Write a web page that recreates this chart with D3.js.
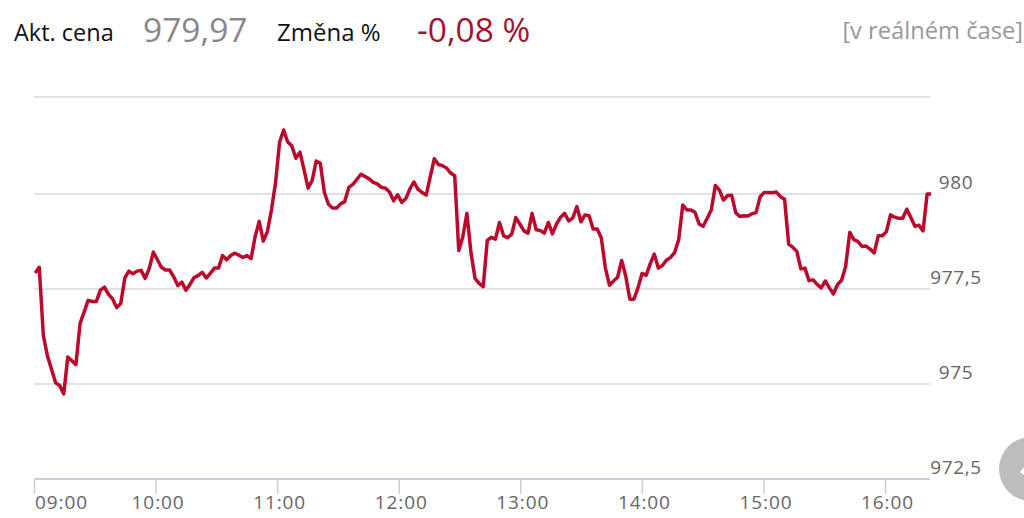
<!DOCTYPE html>
<html>
<head>
<meta charset="utf-8">
<script src="https://cdnjs.cloudflare.com/ajax/libs/d3/7.8.5/d3.min.js"></script>
<style>
  html, body { margin: 0; padding: 0; background: #fff; overflow: hidden; }
  text { font-family: "Open Sans", sans-serif; }
</style>
</head>
<body>
<script>
// ceny, jeden bod po 2 minutach
const prices = [
  977.92, 978.07, 976.27, 975.74, 975.39, 975.03, 974.96, 974.74, 975.71, 975.61,
  975.51, 976.59, 976.89, 977.20, 977.17, 977.17, 977.47, 977.55, 977.36, 977.24,
  977.01, 977.12, 977.79, 977.97, 977.90, 977.97, 977.99, 977.78, 978.04, 978.47,
  978.27, 978.07, 978.00, 978.00, 977.82, 977.59, 977.68, 977.47, 977.62, 977.80,
  977.85, 977.94, 977.79, 977.91, 978.05, 978.05, 978.38, 978.27, 978.38, 978.44,
  978.39, 978.33, 978.38, 978.30, 978.88, 979.28, 978.76, 979.01, 979.58, 980.28,
  981.34, 981.65, 981.34, 981.24, 980.92, 981.08, 980.63, 980.15, 980.35, 980.85,
  980.79, 980.04, 979.73, 979.63, 979.63, 979.74,
  979.80, 980.17, 980.25, 980.38, 980.51, 980.45, 980.39, 980.30, 980.26, 980.17,
  980.15, 980.05, 979.82, 979.98, 979.78, 979.88, 980.13, 980.31, 980.12, 980.04,
  979.97, 980.45, 980.91, 980.76, 980.73, 980.67, 980.54, 980.47, 978.51, 978.88,
  979.49, 978.45, 977.78, 977.65, 977.56, 978.78, 978.86, 978.81, 979.25, 978.90,
  978.85, 978.94, 979.38, 979.21, 979.03, 978.97, 979.49, 979.06, 979.04, 978.97,
  979.25, 978.95, 979.21, 979.39, 979.49, 979.29, 979.37, 979.67, 979.27, 979.45,
  979.43, 979.08, 979.08, 978.84, 978.05, 977.60, 977.71, 977.81, 978.25, 977.84,
  977.23, 977.23, 977.53, 977.91, 977.86, 978.16, 978.42, 978.05, 978.12, 978.26,
  978.33, 978.46, 978.80, 979.71,
  979.58, 979.58, 979.52, 979.21, 979.15, 979.36, 979.58, 980.22, 980.10, 979.84,
  979.96, 979.97, 979.51, 979.41, 979.43, 979.42, 979.48, 979.51, 979.93, 980.04,
  980.04, 980.03, 980.05, 979.93, 979.86, 978.68, 978.60, 978.49, 978.03, 978.05,
  977.72, 977.74, 977.62, 977.53, 977.71, 977.53, 977.37, 977.62, 977.73, 978.10,
  978.99, 978.80, 978.75, 978.62, 978.63, 978.55, 978.45, 978.90, 978.90, 979.01,
  979.45, 979.39, 979.36, 979.36, 979.60, 979.38, 979.15, 979.18, 979.03, 980.00,
  980.00
];
const hourTicks = [540, 600, 660, 720, 780, 840, 900, 960];
const hourLabels = ["09:00", "10:00", "11:00", "12:00", "13:00", "14:00", "15:00", "16:00"];
const priceTicks = [972.5, 975, 977.5, 980, 982.5];
const priceLabels = ["972,5", "975", "977,5", "980", ""];

const firstMinute = 540.6;
const stepMinutes = 2.01;

const svg = d3.select("body").append("svg").attr("width", 1024).attr("height", 518);

const x = d3.scaleLinear().domain([540, 960]).range([34, 885]);
const y = d3.scaleLinear().domain(priceTicks).range([479, 384, 289, 194, 97]);

// mrizka
svg.append("g").selectAll("line").data(priceTicks).enter().append("line")
  .attr("x1", 34)
  .attr("x2", 930)
  .attr("y1", d => y(d))
  .attr("y2", d => y(d))
  .attr("stroke", "#d3dae1")
  .attr("stroke-width", 1.6);

// popisky osy y
svg.append("g").selectAll("text").data(priceTicks).enter().append("text")
  .attr("x", 956)
  .attr("y", d => y(d) - 5)
  .attr("text-anchor", "middle")
  .attr("font-size", 19)
  .attr("letter-spacing", 0.6)
  .attr("fill", "#666")
  .text((d, i) => priceLabels[i]);

// osa x
const xAxis = d3.axisBottom(x)
  .tickValues(hourTicks)
  .tickFormat((d, i) => hourLabels[i])
  .tickSize(15)
  .tickSizeOuter(0);

const gx = svg.append("g").attr("transform", "translate(0,479)").call(xAxis);
gx.select(".domain")
  .attr("d", "M34,0H" + 930)
  .attr("stroke", "#c6d1dc")
  .attr("stroke-width", 2);
gx.selectAll(".tick line").attr("stroke", "#c6d1dc").attr("stroke-width", 1.5);
gx.selectAll(".tick text")
  .attr("y", 17)
  .attr("dy", "0.71em")
  .attr("font-family", '"Open Sans", sans-serif')
  .attr("font-size", 19)
  .attr("letter-spacing", 0.9)
  .attr("fill", "#666")
  .attr("dx", d => (d === 540 ? 27 : 2));

// cara ceny
const line = d3.line()
  .x((d, i) => x(firstMinute + i * stepMinutes))
  .y(d => y(d));

svg.append("path")
  .datum(prices)
  .attr("d", line)
  .attr("fill", "none")
  .attr("stroke", "#bb0a2c")
  .attr("stroke-width", 3.5)
  .attr("stroke-linejoin", "round");

// hlavicka
const header = [
  { t: "Akt. cena", x: 14, y: 41, s: 23.5, c: "#111" },
  { t: "979,97", x: 143, y: 42, s: 33.5, c: "#888" },
  { t: "Změna %", x: 277, y: 41, s: 24, c: "#111" },
  { t: "-0,08 %", x: 417, y: 42, s: 33.5, c: "#a3142f" }
];
svg.append("g").selectAll("text").data(header).enter().append("text")
  .attr("x", d => d.x)
  .attr("y", d => d.y)
  .attr("font-size", d => d.s)
  .attr("fill", d => d.c)
  .text(d => d.t);

svg.append("text")
  .attr("x", 1023)
  .attr("y", 39)
  .attr("text-anchor", "end")
  .attr("font-size", 23.7)
  .attr("fill", "#999")
  .text("[v reálném čase]");

// tlacitko nahoru vpravo dole
svg.append("circle").attr("cx", 1031).attr("cy", 469).attr("r", 32).attr("fill", "#bdbdbd");
svg.append("path")
  .attr("d", "M1020,472 L1026,465 L1026,476 Z")
  .attr("fill", "#fff");
</script>
</body>
</html>
